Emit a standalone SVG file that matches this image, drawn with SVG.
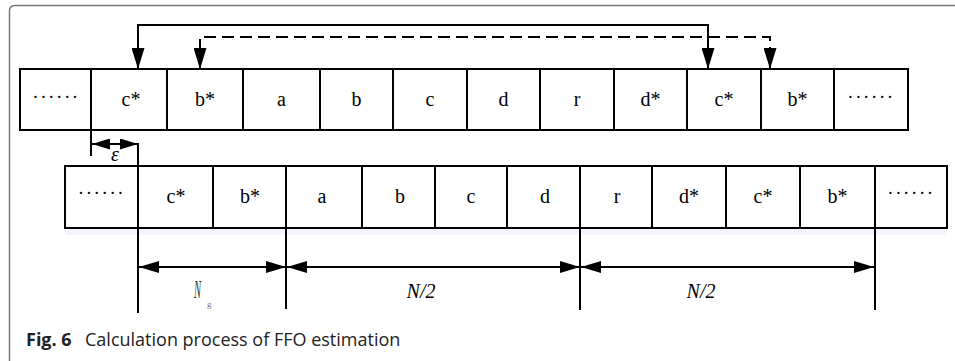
<svg xmlns="http://www.w3.org/2000/svg" width="955" height="361" viewBox="0 0 955 361">
<style>
.cell{fill:#fff;stroke:#000;stroke-width:2}
.lbl{font-family:"Liberation Serif",serif;font-size:20px;fill:#000;text-anchor:middle}
.dots{font-family:"Liberation Serif",serif;font-size:19px;fill:#000;text-anchor:middle;letter-spacing:1.6px}
.ln{stroke:#000;stroke-width:2;fill:none}
.dash{stroke:#000;stroke-width:2;fill:none;stroke-dasharray:12 6}
.it{font-family:"Liberation Serif",serif;font-style:italic;font-size:20px;fill:#000;text-anchor:middle}
.cap{font-family:"Open Sans",sans-serif;font-size:18px;fill:#222}
</style>
<defs>
<marker id="big" viewBox="0 0 21 13" refX="21" refY="6.5" markerWidth="21" markerHeight="13" markerUnits="userSpaceOnUse" orient="auto-start-reverse"><path d="M0,0 L21,6.5 L0,13 Z" fill="#000"/></marker>
<marker id="dim" viewBox="0 0 20 12" refX="20" refY="6" markerWidth="20" markerHeight="12" markerUnits="userSpaceOnUse" orient="auto-start-reverse"><path d="M0,0 L20,6 L0,12 Z" fill="#000"/></marker>
<marker id="sm" viewBox="0 0 18 11" refX="18" refY="5.5" markerWidth="18" markerHeight="11" markerUnits="userSpaceOnUse" orient="auto-start-reverse"><path d="M0,0 L18,5.5 L0,11 Z" fill="#000"/></marker>
</defs>
<rect width="955" height="361" fill="#fff"/>
<path d="M9.5,361 V11 Q9.5,5.5 15,5.5 H955" fill="none" stroke="#777" stroke-width="1.5"/>
<rect x="65" y="229" width="882" height="6" fill="#f2f5f9"/>
<g id="top-row">
<g id="t1"><rect class="cell" x="20" y="69" width="71" height="61"/><text class="dots" x="56" y="103">······</text></g>
<g id="t2"><rect class="cell" x="91" y="69" width="76" height="61"/><text class="lbl" x="131" y="106">c*</text></g>
<g id="t3"><rect class="cell" x="167" y="69" width="76" height="61"/><text class="lbl" x="205" y="106">b*</text></g>
<g id="t4"><rect class="cell" x="243" y="69" width="77" height="61"/><text class="lbl" x="281.5" y="106">a</text></g>
<g id="t5"><rect class="cell" x="320" y="69" width="73" height="61"/><text class="lbl" x="356.5" y="106">b</text></g>
<g id="t6"><rect class="cell" x="393" y="69" width="74" height="61"/><text class="lbl" x="430" y="106">c</text></g>
<g id="t7"><rect class="cell" x="467" y="69" width="73" height="61"/><text class="lbl" x="503.5" y="106">d</text></g>
<g id="t8"><rect class="cell" x="540" y="69" width="74" height="61"/><text class="lbl" x="577" y="106">r</text></g>
<g id="t9"><rect class="cell" x="614" y="69" width="73" height="61"/><text class="lbl" x="650.5" y="106">d*</text></g>
<g id="t10"><rect class="cell" x="687" y="69" width="74" height="61"/><text class="lbl" x="724" y="106">c*</text></g>
<g id="t11"><rect class="cell" x="761" y="69" width="73" height="61"/><text class="lbl" x="797.5" y="106">b*</text></g>
<g id="t12"><rect class="cell" x="834" y="69" width="74" height="61"/><text class="dots" x="871" y="103">······</text></g>
</g>
<g id="bottom-row">
<g id="b1"><rect class="cell" x="65" y="166" width="73" height="62"/><text class="dots" x="101.5" y="199">······</text></g>
<g id="b2"><rect class="cell" x="138" y="166" width="75" height="62"/><text class="lbl" x="176" y="203">c*</text></g>
<g id="b3"><rect class="cell" x="213" y="166" width="73" height="62"/><text class="lbl" x="250" y="203">b*</text></g>
<g id="b4"><rect class="cell" x="286" y="166" width="76" height="62"/><text class="lbl" x="322" y="203">a</text></g>
<g id="b5"><rect class="cell" x="362" y="166" width="73" height="62"/><text class="lbl" x="400" y="203">b</text></g>
<g id="b6"><rect class="cell" x="435" y="166" width="72" height="62"/><text class="lbl" x="471" y="203">c</text></g>
<g id="b7"><rect class="cell" x="507" y="166" width="73" height="62"/><text class="lbl" x="545" y="203">d</text></g>
<g id="b8"><rect class="cell" x="580" y="166" width="72" height="62"/><text class="lbl" x="617" y="203">r</text></g>
<g id="b9"><rect class="cell" x="652" y="166" width="74" height="62"/><text class="lbl" x="689" y="203">d*</text></g>
<g id="b10"><rect class="cell" x="726" y="166" width="74" height="62"/><text class="lbl" x="763" y="203">c*</text></g>
<g id="b11"><rect class="cell" x="800" y="166" width="75" height="62"/><text class="lbl" x="837.5" y="203">b*</text></g>
<g id="b12"><rect class="cell" x="875" y="166" width="72" height="62"/><text class="dots" x="911" y="199">······</text></g>
</g>
<g id="connectors">
<path class="ln" d="M138,69 V25 H708 V69" marker-start="url(#big)" marker-end="url(#big)"/>
<path class="dash" d="M200,69 V37 H770 V69" marker-start="url(#big)" marker-end="url(#big)"/>
<line class="ln" x1="91" y1="130" x2="91" y2="156"/>
<line class="ln" x1="138" y1="143" x2="138" y2="313"/>
<line class="ln" x1="92" y1="144" x2="138" y2="144" marker-start="url(#sm)" marker-end="url(#sm)"/>
<line class="ln" x1="286" y1="228" x2="286" y2="309"/>
<line class="ln" x1="580" y1="228" x2="580" y2="310"/>
<line class="ln" x1="875" y1="228" x2="875" y2="310"/>
<line class="ln" x1="139" y1="267" x2="286" y2="267" marker-start="url(#dim)" marker-end="url(#dim)"/>
<line class="ln" x1="287" y1="267" x2="580" y2="267" marker-start="url(#dim)" marker-end="url(#dim)"/>
<line class="ln" x1="581" y1="267" x2="874" y2="267" marker-start="url(#dim)" marker-end="url(#dim)"/>
</g>
<g id="labels">
<text class="it" x="115" y="161" font-size="23">ε</text>
<text font-family="Liberation Serif,serif" font-style="italic" font-size="25" fill="#333" transform="translate(194,298) scale(0.42,1)">N</text>
<text font-family="Liberation Serif,serif" font-size="9" fill="#777" x="207" y="307">g</text>
<text class="it" x="421" y="298">N/2</text>
<text class="it" x="701" y="298">N/2</text>
</g>
<g id="caption">
<text class="cap" x="26" y="346"><tspan font-weight="bold">Fig. 6</tspan></text>
<text class="cap" x="85" y="346">Calculation process of FFO estimation</text>
</g>
</svg>
